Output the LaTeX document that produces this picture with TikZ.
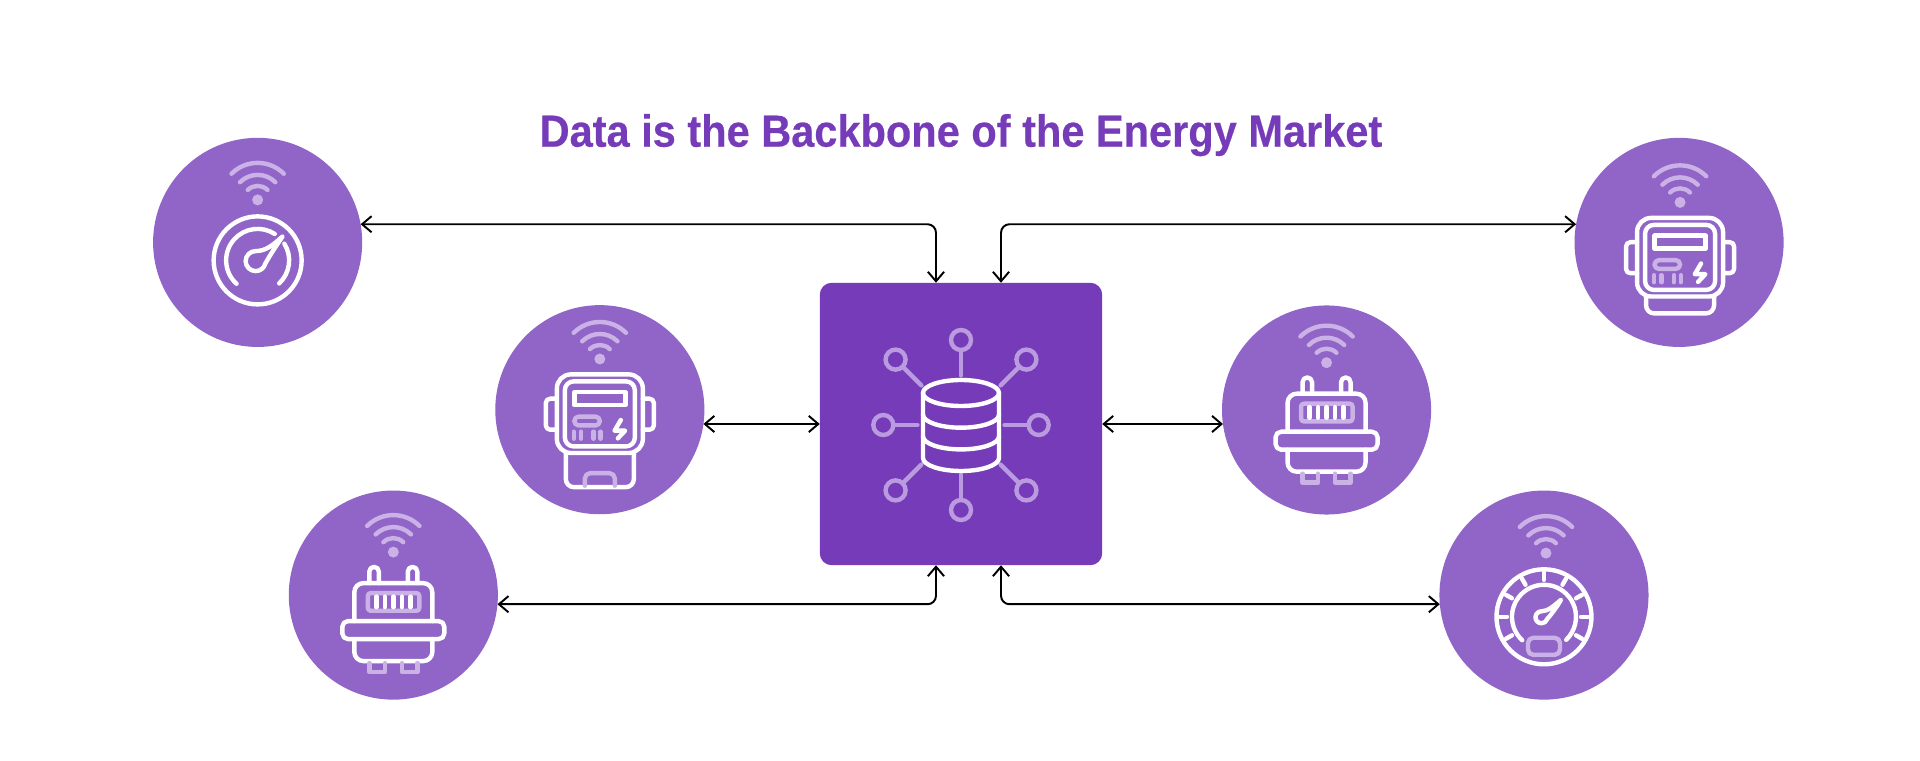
\documentclass[tikz,border=0pt]{standalone}
\usepackage{xcolor}
\usepackage{fontspec}
\usepackage{tikz}
\usetikzlibrary{arrows.meta, positioning}
\setmainfont{Liberation Sans}[FakeStretch=0.923, FakeBold=0.4]
\definecolor{hubpurple}{HTML}{763BB8}
\definecolor{devicepurple}{HTML}{9164C8}
\definecolor{softdevice}{HTML}{CBB2E6}
\definecolor{softhub}{HTML}{BB9BDF}

\begin{document}
\begin{tikzpicture}[
        x=0.01cm, y=0.01cm,
        hub/.style={rectangle, fill=hubpurple, rounded corners=3.4pt, minimum size=2.823cm, inner sep=0pt, outer sep=0pt},
        device/.style={circle, fill=devicepurple, minimum size=2.09cm, inner sep=0pt, outer sep=0pt},
        link/.style={<->, >={Straight Barb[length=2.7pt, width=4.6pt]}, line width=0.55pt, rounded corners=2.4pt},
        iconline/.style={draw=white, line width=1.25pt, line cap=round, line join=round},
        softline/.style={draw=softdevice, line width=1.25pt, line cap=round, line join=round},
        hubline/.style={draw=softhub, line width=1.25pt, line cap=round},
        pics/wifi/.style={code={
            \fill[softdevice] (0,0) circle[radius=5.5];
            \foreach \r in {14,25,37} {
                \draw[softline] (45:\r) arc[start angle=45, end angle=135, radius=\r];
            }
        }},
        pics/dial/.style={code={
            \draw[iconline] (0,0) circle[radius=44];
            \draw[iconline] (228:31.5) arc[start angle=228, end angle=57, radius=31.5];
            \draw[iconline] (32:31.5) arc[start angle=32, end angle=-47, radius=31.5];
            \draw[iconline] (25,24) .. controls (15,15) and (8,9.3) .. (-2,9.3)
                arc[start angle=90, end angle=345, radius=10] .. controls (11,3) and (18,14) .. (25,24) -- cycle;
        }},
        pics/speedo/.style={code={
            \draw[iconline] (0,0) circle[radius=47.5];
            \draw[iconline] (227:32) arc[start angle=227, end angle=-46, radius=32];
            \foreach \a in {-30,0,...,210} {
                \draw[iconline] (\a:37) -- (\a:44);
            }
            \draw[iconline] (17,17) .. controls (10,11) and (4,5.5) .. (-2.5,5.5)
                arc[start angle=90, end angle=345, radius=6] .. controls (7,2) and (13,10) .. (17,17) -- cycle;
            \draw[softline, fill=devicepurple, rounded corners=1.5pt] (-16,-21) rectangle (16,-38);
        }},
        pics/meter/.style={code={
            \draw[iconline, rounded corners=4pt] (-43,-43.3) rectangle (43,35.3);
            \draw[iconline, rounded corners=2.5pt] (-35,-36.7) rectangle (35,28.3);
            \draw[iconline] (-25.5,4.5) rectangle (25.5,17.5);
            \draw[softline, rounded corners=1.2pt] (-25.5,-15.7) rectangle (0,-7);
            \foreach \x in {-26,-18.7,-6.3,0.7} {
                \draw[softline] (\x,-22) -- (\x,-29);
            }
            \draw[iconline] (21,-10.3) -- (14.7,-21) -- (25.3,-21) -- (18,-28.7);
            \draw[iconline, rounded corners=1.2pt] (-43,11) -- (-54,11) -- (-54,-20) -- (-43,-20);
            \draw[iconline, rounded corners=1.2pt] (43,11) -- (54,11) -- (54,-20) -- (43,-20);
        }},
        pics/tallbase/.style={code={
            \draw[iconline, rounded corners=2.3pt] (-34,-43.3) -- (-34,-77.5) -- (34,-77.5) -- (34,-43.3);
            \draw[softline, rounded corners=1.5pt] (-15,-76) -- (-15,-63.5) -- (15,-63.5) -- (15,-76);
        }},
        pics/shortbase/.style={code={
            \draw[iconline, rounded corners=2.3pt] (-34,-43.3) -- (-34,-60.2) -- (34,-60.2) -- (34,-43.3);
        }},
        pics/plug/.style={code={
            \draw[iconline, rounded corners=2.6pt] (-39,-26) -- (-39,12) -- (39,12) -- (39,-26);
            \draw[iconline, rounded corners=1.6pt] (-51,-44) rectangle (51,-26);
            \draw[iconline, rounded corners=2.6pt] (-39,-44) -- (-39,-66) -- (39,-66) -- (39,-44);
            \foreach \x in {-24,14.5} {
                \draw[iconline] (\x,12) -- (\x,23.5) arc[start angle=180, end angle=0, radius=4.75] -- ++(0,-11.5);
            }
            \draw[softline, rounded corners=0.8pt] (-25.5,-15.7) rectangle (26,2);
            \foreach \x in {-17,-8.5,0,8.5,17} {
                \draw[iconline] (\x,-1.5) -- (\x,-12);
            }
            \foreach \x in {-24,8.5} {
                \draw[softline] (\x,-68) -- (\x,-77) -- ++(15.5,0) -- ++(0,9);
            }
        }}
    ]
    \useasboundingbox (0,0) rectangle (1920,760);

    \node[hub] (hub) at (961,336) {};
    \node[above=1.36cm of hub, anchor=base, text=hubpurple, font=\fontsize{12.8}{15}\selectfont\bfseries] (title) {Data is the Backbone of the Energy Market};

    % Devices round the hub
    \node[device, left=4.573cm of hub, yshift=1.815cm] (gaugeA) {};
    \node[device, left=1.153cm of hub, yshift=0.143cm] (meterA) {};
    \node[device, left=3.217cm of hub, yshift=-1.71cm] (plugA) {};
    \node[device, right=4.72cm of hub, yshift=1.815cm] (meterB) {};
    \node[device, right=1.197cm of hub, yshift=0.14cm] (plugB) {};
    \node[device, right=3.37cm of hub, yshift=-1.71cm] (gaugeB) {};

    % Ends on the hub
    \coordinate (hubNW) at ([xshift=-0.25cm]hub.north);
    \coordinate (hubNE) at ([xshift=0.40cm]hub.north);
    \coordinate (hubSW) at ([xshift=-0.25cm]hub.south);
    \coordinate (hubSE) at ([xshift=0.40cm]hub.south);

    % Data links
    \draw[link] (gaugeA.10) -| (hubNW);
    \draw[link] (meterB.170) -| (hubNE);
    \draw[link] (plugA.355) -| (hubSW);
    \draw[link] (gaugeB.185) -| (hubSE);
    \draw[link] (meterA.352 |- hub.west) -- (hub.west);
    \draw[link] (plugB.188 |- hub.east) -- (hub.east);

    % Device icons
    \pic at ([shift={(0,42.5)}]gaugeA) {wifi};
    \pic at ([shift={(0,-18)}]gaugeA) {dial};
    \pic at ([shift={(0,50.7)}]meterA) {wifi};
    \pic at (meterA) {meter};
    \pic at (meterA) {tallbase};
    \pic at ([shift={(0,43)}]plugA) {wifi};
    \pic at (plugA) {plug};
    \pic at ([shift={(1,40)}]meterB) {wifi};
    \pic at ([shift={(1,-10.8)}]meterB) {meter};
    \pic at ([shift={(1,-10.8)}]meterB) {shortbase};
    \pic at ([shift={(0,47.3)}]plugB) {wifi};
    \pic at ([shift={(0,4.3)}]plugB) {plug};
    \pic at ([shift={(2,42)}]gaugeB) {wifi};
    \pic at ([shift={(0,-21.7)}]gaugeB) {speedo};

    % Hub icon
    \begin{scope}[shift={(hub.center)}, yshift=-0.01cm]
        \foreach \a/\r in {90/85, 270/85, 180/77.7, 0/77.7, 45/92.5, 135/92.5, 225/92.5, 315/92.5} {
            \draw[hubline] (\a:\r-10.5) -- (\a:{\r<80 ? 43.5 : (\r>90 ? 56 : 49.5)});
            \draw[hubline] (\a:\r) circle[radius=10];
        }
        \draw[iconline] (0,32) ellipse[x radius=38, y radius=13];
        \draw[iconline] (-38,32) -- (-38,-33) arc[start angle=180, end angle=360, x radius=38, y radius=13] -- (38,32);
        \foreach \y in {10.3,-11.4} {
            \draw[iconline] (-38,\y) arc[start angle=180, end angle=360, x radius=38, y radius=13];
        }
    \end{scope}
\end{tikzpicture}
\end{document}
